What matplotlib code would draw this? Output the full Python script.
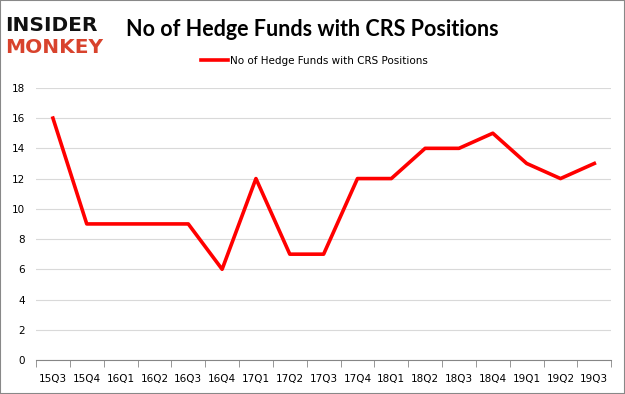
import matplotlib
matplotlib.use("Agg")
import matplotlib.pyplot as plt
from matplotlib.patches import Rectangle

quarters = ["15Q3", "15Q4", "16Q1", "16Q2", "16Q3", "16Q4", "17Q1", "17Q2", "17Q3",
            "17Q4", "18Q1", "18Q2", "18Q3", "18Q4", "19Q1", "19Q2", "19Q3"]
funds = [16, 9, 9, 9, 9, 6, 12, 7, 7, 12, 12, 14, 14, 15, 13, 12, 13]
yticks = [0, 2, 4, 6, 8, 10, 12, 14, 16, 18]
series_name = "No of Hedge Funds with CRS Positions"

fig = plt.figure(figsize=(6.25, 3.94), dpi=100)
ax = fig.add_axes([0.0576, 0.0863, 0.9204, 0.6907])

x = list(range(len(quarters)))
ax.plot(x, funds, color="#ff0000", linewidth=2.6, label=series_name)
ax.set_xlim(-0.5, len(quarters) - 0.5)
ax.set_ylim(0, 18)
ax.set_yticks(yticks)
ax.set_yticklabels([str(v) for v in yticks], fontsize=7.5)
ax.set_xticks(x)
ax.set_xticklabels(quarters, fontsize=7.5)
ax.set_xticks([i - 0.5 for i in range(len(quarters) + 1)], minor=True)
ax.tick_params(axis="x", which="major", length=0, pad=10)
ax.tick_params(axis="x", which="minor", length=5, color="#868686")
ax.tick_params(axis="y", length=0, pad=8)
ax.grid(axis="y", color="#d9d9d9", linewidth=0.8)
ax.set_axisbelow(True)
for s in ["top", "right", "left"]:
    ax.spines[s].set_visible(False)
ax.spines["bottom"].set_color("#868686")

fig.text(0.50, 0.925, "No of Hedge Funds with CRS Positions", ha="center", va="center",
         fontsize=15.5, fontweight="bold", family="Lato")
fig.legend(loc="center", bbox_to_anchor=(0.503, 0.845), frameon=False, fontsize=7.5,
           handlelength=2.6, handletextpad=0.2)

fig.text(0.008, 0.935, "INSIDER", fontsize=14.5, fontweight="bold", color="#111111",
         ha="left", va="center", family="DejaVu Sans")
fig.text(0.008, 0.88, "MONKEY", fontsize=14.5, fontweight="bold", color="#d8432d",
         ha="left", va="center", family="DejaVu Sans")

fig.patches.append(Rectangle((0, 0), 1, 1, transform=fig.transFigure, fill=False,
                             edgecolor="#888888", linewidth=1.5))
fig.savefig("out.png", dpi=100)
